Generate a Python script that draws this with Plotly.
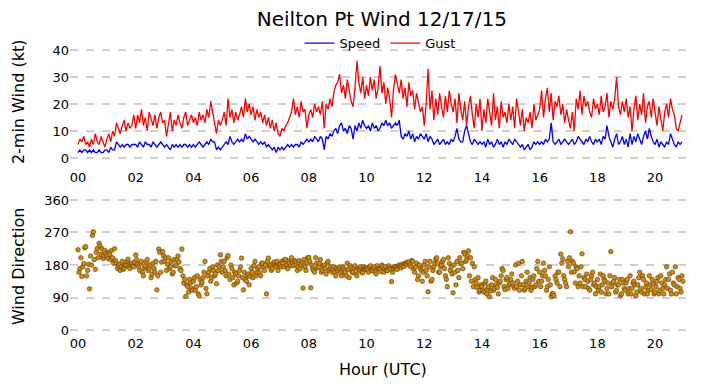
import plotly.graph_objects as go

# 4-minute samples, one row per hour (00..20 UTC)
speed_rows = [
    [2,3,2,3,3,2,3,2,3,2,2,3,2,2,3],
    [3,2,4,3,3,6,5,4,5,4,5,5,4,5,5],
    [5,4,6,5,4,6,5,5,4,6,5,4,5,6,5],
    [4,5,4,3,5,4,5,4,5,4,5,5,4,5,4],
    [5,4,5,6,5,4,5,6,5,7,6,6,3,4,3],
    [4,5,6,5,8,6,5,6,7,6,7,6,9,7,8],
    [7,6,7,6,5,6,5,6,4,5,4,3,4,2,4],
    [3,4,3,4,5,4,5,4,5,5,4,6,5,6,7],
    [6,7,6,8,7,6,8,7,3,8,7,9,8,10,11],
    [9,12,13,10,11,9,12,11,7,12,10,13,11,14,12],
    [11,12,10,13,11,12,10,11,13,12,14,12,13,11,12],
    [13,12,14,8,7,9,8,10,7,9,6,8,7,9,8],
    [7,9,6,8,7,5,6,7,5,6,7,5,6,5,7],
    [6,8,11,7,6,6,10,12,9,6,5,7,6,5,6],
    [5,6,4,7,5,6,4,5,7,5,6,4,6,5,7],
    [6,5,7,6,5,4,5,3,4,5,3,4,6,5,6],
    [5,6,5,7,6,7,13,6,5,6,7,5,6,7,6],
    [5,6,7,5,6,8,7,6,5,7,6,8,6,5,7],
    [6,7,5,8,7,12,8,6,4,7,9,5,6,8,5],
    [7,4,9,5,8,6,9,7,5,8,10,7,11,8,6],
    [5,7,4,6,5,4,6,5,9,7,5,4,6,5,6],
]
gust_rows = [
    [5,7,6,8,5,6,4,7,5,9,6,5,8,6,4],
    [7,9,6,10,8,13,11,9,12,14,10,13,11,12,16],
    [11,16,13,18,12,15,10,17,14,12,16,11,15,17,13],
    [14,8,12,17,10,14,12,16,13,11,15,17,12,14,16],
    [13,15,12,17,14,16,13,18,15,21,17,13,9,14,12],
    [14,17,12,22,15,18,13,17,14,16,19,15,22,17,20],
    [16,19,14,18,15,17,13,16,12,15,11,14,10,13,9],
    [8,11,10,12,13,15,17,22,16,19,15,21,17,18,11],
    [16,18,15,20,17,19,16,21,11,20,18,22,19,24,27],
    [28,31,24,27,22,29,25,21,19,26,36,28,24,30,22],
    [27,23,30,25,29,22,26,34,24,28,20,26,22,15,25],
    [31,27,24,29,22,26,19,28,23,25,18,24,21,17,19],
    [12,20,33,18,25,14,22,16,24,19,15,23,17,25,20],
    [17,22,13,24,18,14,21,12,19,23,16,11,20,15,22],
    [10,18,13,22,16,12,24,14,19,11,21,15,17,13,20],
    [14,19,11,22,16,12,18,10,15,13,17,11,20,14,16],
    [18,25,15,22,26,17,24,14,21,19,23,16,20,13,18],
    [14,11,17,10,22,18,25,16,23,19,21,17,15,22,18],
    [20,16,23,17,19,24,15,21,18,22,30,19,16,21,17],
    [22,15,19,10,18,23,14,20,16,24,13,19,21,15,22],
    [16,12,19,14,10,17,20,15,22,18,16,11,10,13,16],
]
# direction at the same 4-minute samples
direction_rows = [
    [222,170,148,184,231,165,114,180,272,168,226,240,210,198,220],
    [205,215,195,200,225,185,178,165,190,172,180,196,170,185,175],
    [208,182,165,190,150,178,195,170,145,185,160,111,224,160,217],
    [190,165,200,175,155,195,180,205,170,224,130,93,120,140,115],
    [135,110,150,95,125,145,190,100,160,135,175,150,128,165,208],
    [160,190,150,206,140,170,125,155,135,165,199,111,140,150,125],
    [170,145,190,160,175,150,185,165,100,199,180,170,188,175,165],
    [182,190,175,195,170,185,200,178,188,165,192,180,116,175,185],
    [201,117,170,160,185,175,195,165,180,155,190,170,160,175,150],
    [165,175,150,170,160,185,145,172,160,178,150,168,175,158,170],
    [172,160,178,165,175,155,170,168,180,160,175,165,172,134,170],
    [175,168,180,172,178,185,182,188,175,190,160,185,150,170,135],
    [180,165,106,190,140,175,197,185,160,180,195,150,120,185,175],
    [103,160,190,145,185,170,210,195,219,200,185,175,130,145,110],
    [120,105,135,115,92,125,110,140,118,130,150,165,112,145,125],
    [140,130,115,120,185,125,190,110,135,120,145,118,150,125,190],
    [160,135,185,150,120,175,92,101,150,130,160,210,197,140,120],
    [175,272,190,161,175,120,130,211,145,120,135,110,150,125,100],
    [140,120,105,150,135,115,100,217,130,145,110,125,95,140,115],
    [130,100,150,115,135,95,125,160,105,140,118,100,150,112,128],
    [105,135,100,150,115,125,175,140,110,160,125,100,145,115,150],
]
# direction at the in-between 2-minute samples
direction_mid_rows = [
    [160,200,175,228,150,182,205,262,195,215,200,232,225,205,212],
    [198,210,220,185,192,170,182,175,168,180,190,175,182,178,188],
    [195,175,185,160,172,188,165,180,155,170,190,150,215,188,205],
    [200,182,170,190,160,178,195,188,165,150,140,125,105,130,110],
    [145,120,100,140,132,160,115,150,170,145,165,155,180,175,190],
    [175,165,200,155,180,145,160,130,150,175,145,160,135,155,148],
    [160,178,150,170,158,185,172,180,190,175,165,185,178,190,180],
    [175,185,195,180,190,178,185,192,180,175,170,188,195,165,200],
    [190,180,165,200,172,185,160,178,170,185,165,175,168,160,172],
    [170,158,175,165,150,168,178,160,172,155,170,165,160,175,168],
    [168,175,165,172,160,178,170,162,175,170,165,178,168,160,175],
    [170,178,175,182,176,184,188,180,192,168,175,140,180,165,160],
    [190,150,175,135,165,185,200,160,175,190,170,140,200,165,155],
    [180,125,165,200,185,215,190,205,150,135,120,140,118,105,125],
    [110,130,100,120,108,145,115,125,100,135,170,120,140,115,130],
    [155,120,180,135,110,150,125,115,160,130,110,140,120,170,135],
    [120,150,165,110,140,125,100,95,140,160,120,185,150,130,190],
    [200,160,185,130,170,150,175,120,140,155,115,140,160,130,120],
    [110,155,125,140,100,130,150,120,135,105,125,140,100,130,110],
    [140,115,100,130,125,105,145,115,150,100,130,110,125,140,100],
    [120,145,110,130,100,140,115,155,100,130,175,120,140,105,135],
]
hour_tickvals = [0, 2, 4, 6, 8, 10, 12, 14, 16, 18, 20]
hour_ticktext = ["00", "02", "04", "06", "08", "10", "12", "14", "16", "18", "20"]
wind_ticks = [0, 10, 20, 30, 40]
dir_ticks = [0, 90, 180, 270, 360]

speed = [v for r in speed_rows for v in r]
gust = [v for r in gust_rows for v in r]
dir_a = [v for r in direction_rows for v in r]
dir_b = [v for r in direction_mid_rows for v in r]
direction = []
for a, b in zip(dir_a, dir_b):
    direction += [a, b]

hours = [i * 4 / 60 for i in range(len(speed))]
dir_hours = [i * 2 / 60 for i in range(len(direction))]

FONT = "DejaVu Sans"
fig = go.Figure()
fig.add_trace(go.Scatter(x=hours, y=speed, mode="lines", name="Speed",
                         line=dict(color="#0000ff", width=1.3), xaxis="x", yaxis="y"))
fig.add_trace(go.Scatter(x=hours, y=gust, mode="lines", name="Gust",
                         line=dict(color="#ff0000", width=1.3), xaxis="x", yaxis="y"))
fig.add_trace(go.Scatter(x=dir_hours, y=direction, mode="markers", showlegend=False,
                         marker=dict(color="#d4890c", size=4.6, line=dict(color="#3a2a00", width=0.5)),
                         xaxis="x2", yaxis="y2"))

xcommon = dict(range=[-0.277, 21.21], tickvals=hour_tickvals, ticktext=hour_ticktext,
               showgrid=False, zeroline=False, showline=False, ticks="",
               tickfont=dict(family=FONT, size=13, color="#000"))
ycommon = dict(showgrid=True, gridcolor="#cfcfcf", gridwidth=1.5, griddash="8px,8px",
               zeroline=False, showline=False, ticks="",
               tickfont=dict(family=FONT, size=13, color="#000"))

# page body adds an 8px offset, so the figure is 8px smaller and shifted
W, H = 693, 380
fig.update_layout(
    width=W, height=H,
    margin=dict(l=62, r=11, t=36, b=54, autoexpand=False),
    paper_bgcolor="white", plot_bgcolor="white",
    font=dict(family=FONT, color="#000"),
    title=dict(text="Neilton Pt Wind 12/17/15", x=0.503, xref="paper", y=1 - 11 / H,
               yref="container", xanchor="center", yanchor="middle",
               font=dict(family=FONT, size=20, color="#000")),
    legend=dict(orientation="h", x=0.5, xanchor="center", y=1.003, yanchor="middle",
                font=dict(family=FONT, size=13), bgcolor="rgba(0,0,0,0)"),
    xaxis=dict(domain=[0, 1], anchor="y", **xcommon),
    yaxis=dict(domain=[0.5724, 1], range=[-3.7, 42.2], tickvals=wind_ticks, **ycommon),
    xaxis2=dict(domain=[0, 1], anchor="y2", **xcommon),
    yaxis2=dict(domain=[0, 0.4759], range=[-11, 371], tickvals=dir_ticks, **ycommon),
    annotations=[
        dict(text="2-min Wind (kt)", x=-0.0839, y=0.803, xref="paper", yref="paper",
             textangle=-90, showarrow=False, xanchor="center", yanchor="middle",
             font=dict(family=FONT, size=16)),
        dict(text="Wind Direction", x=-0.0839, y=0.234, xref="paper", yref="paper",
             textangle=-90, showarrow=False, xanchor="center", yanchor="middle",
             font=dict(family=FONT, size=16)),
        dict(text="Hour (UTC)", x=0.505, y=-0.1207, xref="paper", yref="paper",
             showarrow=False, xanchor="center", yanchor="middle",
             font=dict(family=FONT, size=16)),
    ],
)
fig.write_html("out.html")
